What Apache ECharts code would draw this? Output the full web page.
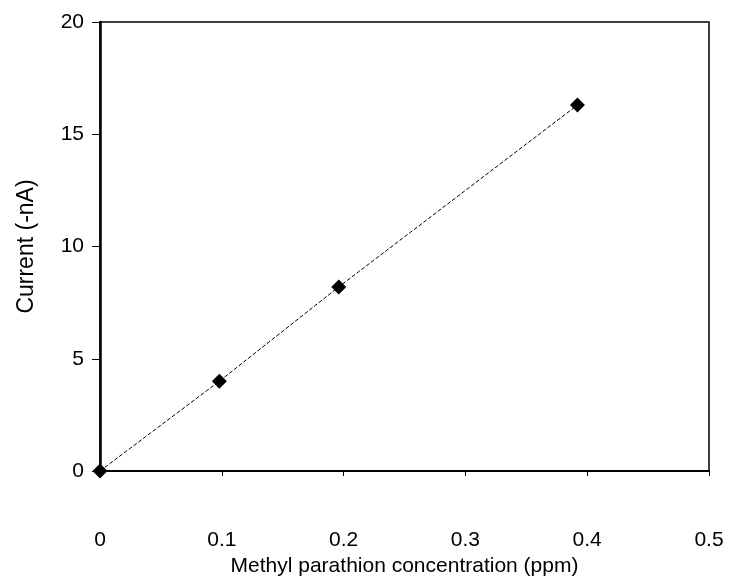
<!DOCTYPE html>
<html>
<head>
<meta charset="utf-8">
<script src="https://cdn.jsdelivr.net/npm/echarts@6/dist/echarts.min.js"></script>
<style>
html,body{margin:0;padding:0;background:#fff;}
#chart{width:729px;height:583px;}
</style>
</head>
<body>
<div id="chart"></div>
<script>
const concentration = [0, 0.098, 0.196, 0.392];
const current = [0, 4.0, 8.2, 16.3];
const xTitle = 'Methyl parathion concentration (ppm)';
const yTitle = 'Current (-nA)';

const chart = echarts.init(document.getElementById('chart'), null, {renderer: 'canvas'});
const font = 'Liberation Sans, Arial, sans-serif';
chart.setOption({
  animation: false,
  backgroundColor: '#ffffff',
  grid: {left: 100, right: 20, top: 22, bottom: 112, show: true, borderColor: '#000', borderWidth: 1.5, backgroundColor: 'transparent'},
  xAxis: {
    type: 'value', min: 0, max: 0.5, interval: 0.1,
    name: xTitle, nameLocation: 'middle', nameGap: 84,
    nameTextStyle: {fontFamily: font, fontSize: 21, color: '#000'},
    axisLine: {show: true, lineStyle: {color: '#000', width: 2}},
    axisTick: {show: true, length: 5, lineStyle: {color: '#000', width: 1}},
    axisLabel: {margin: 59, fontFamily: font, fontSize: 21, color: '#000'},
    splitLine: {show: false}
  },
  yAxis: {
    type: 'value', min: 0, max: 20, interval: 5,
    name: yTitle, nameLocation: 'middle', nameGap: 62, nameRotate: 90,
    nameTextStyle: {fontFamily: font, fontSize: 23, color: '#000'},
    axisLine: {show: true, lineStyle: {color: '#000', width: 2.5}},
    axisTick: {show: true, length: 8, lineStyle: {color: '#000', width: 1}},
    axisLabel: {margin: 16, fontFamily: font, fontSize: 21, color: '#000'},
    splitLine: {show: false}
  },
  series: [{
    type: 'line',
    data: concentration.map((x, i) => [x, current[i]]),
    symbol: 'diamond', symbolSize: 15,
    itemStyle: {color: '#000'},
    lineStyle: {color: '#000', width: 1, type: [4, 2]},
    clip: false
  }]
});
</script>
</body>
</html>
